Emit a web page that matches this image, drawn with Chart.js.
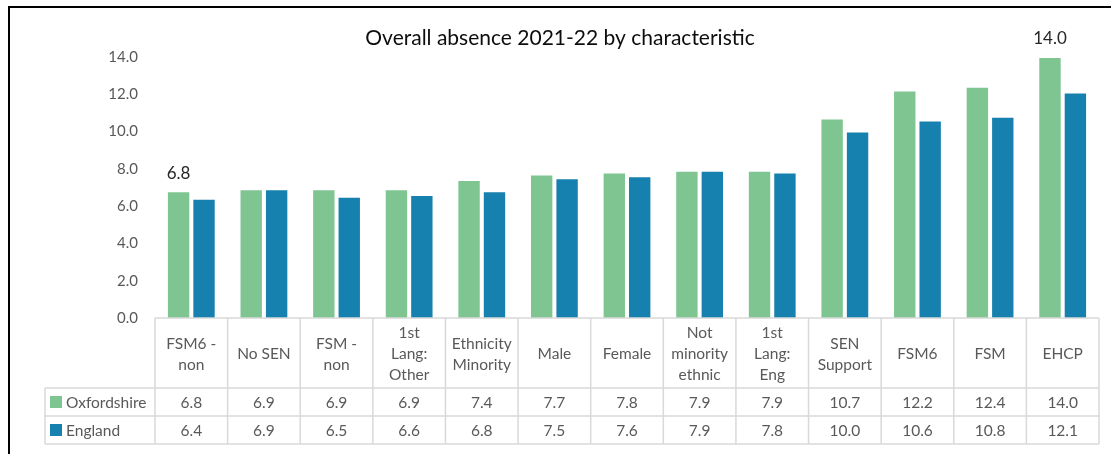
<!DOCTYPE html>
<html>
<head>
<meta charset="utf-8">
<script src="https://cdn.jsdelivr.net/npm/chart.js@4.4.0/dist/chart.umd.min.js"></script>
<style>
  html, body { margin: 0; padding: 0; background: #fff; }
  #wrap { width: 1111px; height: 454px; position: relative; }
</style>
</head>
<body>
<div id="wrap"><canvas id="absenceChart" width="1111" height="454"></canvas></div>
<script>
// Categories (header row of the data table, already split into lines)
let categories = [
  ["FSM6 -", "non"], ["No SEN"], ["FSM -", "non"], ["1st", "Lang:", "Other"],
  ["Ethnicity", "Minority"], ["Male"], ["Female"], ["Not", "minority", "ethnic"],
  ["1st", "Lang:", "Eng"], ["SEN", "Support"], ["FSM6"], ["FSM"], ["EHCP"]
];

// Series values
let oxfordshire = [6.8, 6.9, 6.9, 6.9, 7.4, 7.7, 7.8, 7.9, 7.9, 10.7, 12.2, 12.4, 14.0];
let england = [6.4, 6.9, 6.5, 6.6, 6.8, 7.5, 7.6, 7.9, 7.8, 10.0, 10.6, 10.8, 12.1];

// Y axis ticks
let yTicks = [0, 2, 4, 6, 8, 10, 12, 14];

let seriesNames = ["Oxfordshire", "England"];
let seriesColors = ["#7fc592", "#1681ae"];

const FONT = "Lato, 'Open Sans', sans-serif";

// Title, frame, value labels and data table under the plot
const tablePlugin = {
  id: 'dataTable',
  beforeDraw(chart) {
    const ctx = chart.ctx;
    ctx.save();
    ctx.strokeStyle = '#000';
    ctx.lineWidth = 2;
    ctx.beginPath();
    ctx.moveTo(9, chart.height);
    ctx.lineTo(9, 7);
    ctx.lineTo(chart.width, 7);
    ctx.stroke();
    ctx.restore();
  },
  afterDraw(chart) {
    const ctx = chart.ctx;
    const xs = chart.scales.x;
    const area = chart.chartArea;
    const n = categories.length;
    const colW = (area.right - area.left) / n;
    const top = area.bottom;
    const row1 = top + 70;
    const row2 = row1 + 28;
    const bottom = row2 + 28;
    const legendLeft = 45;

    ctx.save();

    // title
    ctx.fillStyle = '#0d0d0d';
    ctx.font = '21px ' + FONT;
    ctx.textAlign = 'center';
    ctx.textBaseline = 'middle';
    ctx.fillText('Overall absence 2021-22 by characteristic', 560, 38);

    // value labels on first and last Oxfordshire bars
    const meta = chart.getDatasetMeta(0);
    ctx.font = '17px ' + FONT;
    ctx.fillStyle = '#262626';
    [0, n - 1].forEach(i => {
      const bar = meta.data[i];
      ctx.fillText(oxfordshire[i].toFixed(1), bar.x, bar.y - 18);
    });

    // table grid
    ctx.strokeStyle = '#d9d9d9';
    ctx.lineWidth = 1.5;
    ctx.beginPath();
    ctx.moveTo(area.left, top); ctx.lineTo(area.right, top);
    [row1, row2, bottom].forEach(y => {
      ctx.moveTo(legendLeft, y); ctx.lineTo(area.right, y);
    });
    ctx.moveTo(legendLeft, row1); ctx.lineTo(legendLeft, bottom);
    for (let i = 0; i <= n; i++) {
      const x = area.left + i * colW;
      ctx.moveTo(x, top); ctx.lineTo(x, bottom);
    }
    ctx.stroke();

    // header text
    ctx.fillStyle = '#595959';
    ctx.font = '15.5px ' + FONT;
    const lineH = 21;
    categories.forEach((lines, i) => {
      const cx = xs.getPixelForValue(i);
      const cy = (top + row1) / 2 + 1;
      const start = cy - (lines.length - 1) * lineH / 2;
      lines.forEach((t, k) => ctx.fillText(t, cx, start + k * lineH));
    });

    // data rows
    [oxfordshire, england].forEach((vals, r) => {
      const cy = r === 0 ? (row1 + row2) / 2 : (row2 + bottom) / 2;
      ctx.textAlign = 'center';
      vals.forEach((v, i) => {
        ctx.fillText(v.toFixed(1), xs.getPixelForValue(i), cy + 1);
      });
      ctx.fillStyle = seriesColors[r];
      ctx.fillRect(legendLeft + 5, cy - 6, 12, 12);
      ctx.fillStyle = '#595959';
      ctx.textAlign = 'left';
      ctx.fillText(seriesNames[r], legendLeft + 21, cy + 1);
    });

    ctx.restore();
  }
};

new Chart(document.getElementById('absenceChart'), {
  type: 'bar',
  data: {
    labels: categories,
    datasets: [{
      label: seriesNames[0],
      data: oxfordshire,
      backgroundColor: seriesColors[0],
      borderColor: 'rgba(255,255,255,0.7)',
      borderWidth: 1
    }, {
      label: seriesNames[1],
      data: england,
      backgroundColor: seriesColors[1],
      borderColor: 'rgba(255,255,255,0.7)',
      borderWidth: 1
    }]
  },
  options: {
    responsive: false,
    animation: false,
    layout: { padding: { top: 57, right: 12, bottom: 136, left: 0 } },
    datasets: {
      bar: { categoryPercentage: 0.7, barPercentage: 0.92 }
    },
    plugins: {
      legend: { display: false },
      title: { display: false },
      tooltip: { enabled: false }
    },
    scales: {
      x: { display: false },
      y: {
        min: 0,
        max: 14,
        afterFit: (scale) => { scale.width = 155; },
        afterBuildTicks: (scale) => { scale.ticks = yTicks.map(v => ({ value: v })); },
        grid: { display: false, drawTicks: false },
        border: { display: false },
        ticks: {
          padding: 17,
          color: '#595959',
          font: { family: FONT, size: 15 },
          callback: (v) => Number(v).toFixed(1)
        }
      }
    }
  },
  plugins: [tablePlugin]
});
</script>
</body>
</html>
